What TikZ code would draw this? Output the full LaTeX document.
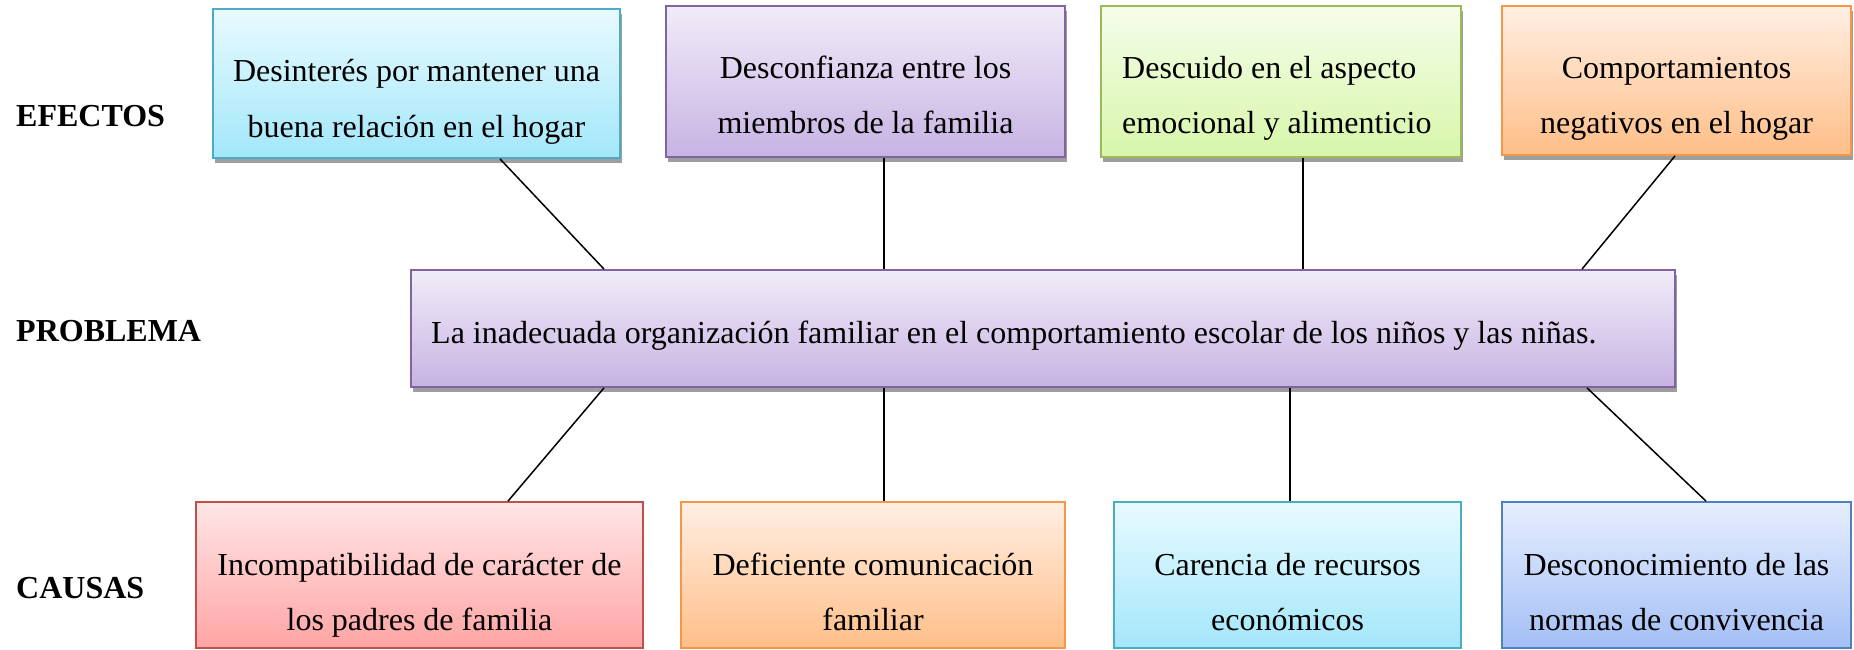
\documentclass[tikz,border=0pt]{standalone}
\usepackage{fontspec}
\setmainfont{Liberation Serif}
\usetikzlibrary{shadows}
\definecolor{cyTop}{HTML}{E8FAFF}\definecolor{cyBot}{HTML}{A3E7FA}\definecolor{cyLn}{HTML}{4BACC6}
\definecolor{puTop}{HTML}{F1ECF8}\definecolor{puBot}{HTML}{C7B3E3}\definecolor{puLn}{HTML}{8064A2}
\definecolor{grTop}{HTML}{F5FDEA}\definecolor{grBot}{HTML}{D7F6AA}\definecolor{grLn}{HTML}{9BBB59}
\definecolor{orTop}{HTML}{FFEFE3}\definecolor{orBot}{HTML}{FFBE88}\definecolor{orLn}{HTML}{F79646}
\definecolor{reTop}{HTML}{FFE6E6}\definecolor{reBot}{HTML}{FFA4A4}\definecolor{reLn}{HTML}{C0504D}
\definecolor{blTop}{HTML}{E6EEFD}\definecolor{blBot}{HTML}{A4BFF6}\definecolor{blLn}{HTML}{4F81BD}
\tikzset{
  x=1pt, y=-1pt,
  cbox/.style 2 args={draw=#1Ln, top color=#1Top, bottom color=#1Bot, line width=1.8pt,
    inner sep=0pt, minimum height=#2},
  shadowed/.style={general shadow={fill=black!38, shadow xshift=2pt, shadow yshift=-5pt}},
  toptxt/.style={font=\fontsize{32}{55}\selectfont, align=center, anchor=base, inner sep=0pt},
  lefttxt/.style={font=\fontsize{32}{55}\selectfont, align=left, anchor=base west, inner sep=0pt},
  lbl/.style={font=\fontsize{32}{38}\selectfont\bfseries, anchor=base west, inner sep=0pt},
  conn/.style={line width=1.5pt, black}
}
\begin{document}
\begin{tikzpicture}
\useasboundingbox (0,0) rectangle (1854,650);
% effect boxes
\node[cbox={cy}{149pt}, shadowed, minimum width=407pt] (b1) at (416.5,83.5) {};
\node[cbox={pu}{151pt}, shadowed, minimum width=399pt] (b2) at (865.5,81.5) {};
\node[cbox={gr}{151pt}, shadowed, minimum width=360pt] (b3) at (1281,81.5) {};
\node[cbox={or}{149pt}, shadowed, minimum width=349pt] (b4) at (1676.5,80.5) {};
% problem
\node[cbox={pu}{117pt}, shadowed, minimum width=1264pt] (mid) at (1043,328.5) {};
% cause boxes
\node[cbox={re}{146pt}, minimum width=447pt] (c1) at (419.5,575) {};
\node[cbox={or}{146pt}, minimum width=384pt] (c2) at (873,575) {};
\node[cbox={cy}{146pt}, minimum width=347pt] (c3) at (1287.5,575) {};
\node[cbox={bl}{146pt}, minimum width=349pt] (c4) at (1676.5,575) {};
% texts (base anchor = baseline of last line)
\node[toptxt] (t1) at (416.5,137) {Desinterés por mantener una\\buena relación en el hogar};
\node[toptxt] (t2) at (865.5,134) {Desconfianza entre los\\miembros de la familia};
\node[lefttxt] (t3) at (1122,134) {Descuido en el aspecto\\emocional y alimenticio};
\node[toptxt] (t4) at (1676.5,134) {Comportamientos\\negativos en el hogar};
\node[lefttxt] (tm) at (431,343) {La inadecuada organización familiar en el comportamiento escolar de los niños y las niñas.};
\node[toptxt] (u1) at (419.5,630) {Incompatibilidad de carácter de\\los padres de familia};
\node[toptxt] (u2) at (873,630) {Deficiente comunicación\\familiar};
\node[toptxt] (u3) at (1287.5,630) {Carencia de recursos\\económicos};
\node[toptxt] (u4) at (1676.5,630) {Desconocimiento de las\\normas de convivencia};
% labels
\node[lbl] (lef) at (16,127) {EFECTOS};
\node[lbl] (lpr) at (16,341) {PROBLEMA};
\node[lbl] (lca) at (16,598) {CAUSAS};
% connectors
\draw[conn] ([xshift=83.5pt]b1.south) -- ([xshift=-439pt]mid.north);
\draw[conn] ([xshift=18.5pt]b2.south) -- ([xshift=-159pt]mid.north);
\draw[conn] ([xshift=22pt]b3.south) -- ([xshift=260pt]mid.north);
\draw[conn] ([xshift=-1.5pt]b4.south) -- ([xshift=539pt]mid.north);
\draw[conn] ([xshift=-439pt]mid.south) -- ([xshift=88.5pt]c1.north);
\draw[conn] ([xshift=-159pt]mid.south) -- ([xshift=11pt]c2.north);
\draw[conn] ([xshift=247pt]mid.south) -- ([xshift=2.5pt]c3.north);
\draw[conn] ([xshift=544pt]mid.south) -- ([xshift=29.5pt]c4.north);
\end{tikzpicture}
\end{document}
